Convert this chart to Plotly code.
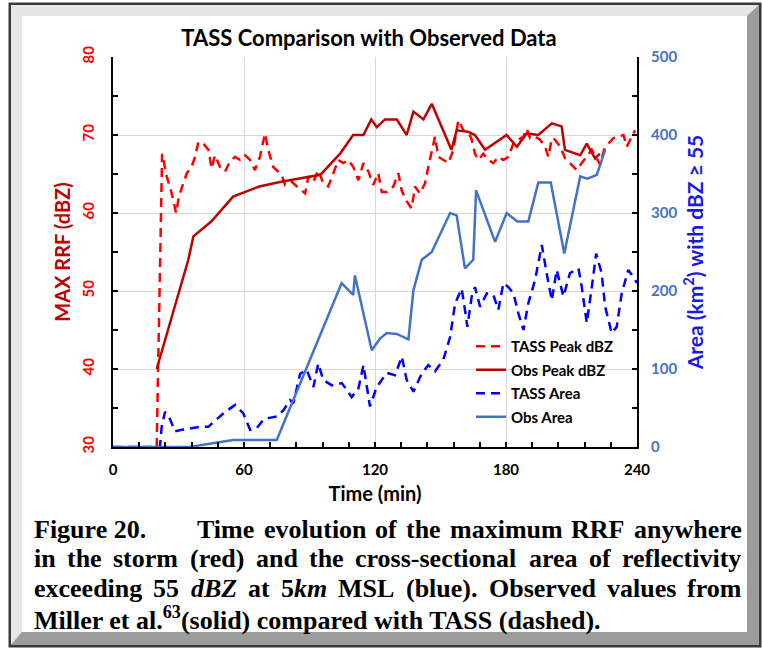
import plotly.graph_objects as go

# ---------------- data ----------------
tass_peak_t = [20, 22.5, 24.6, 26.9, 28.9, 30.2, 32.2, 33.8, 36, 37.6, 39.1, 41.4, 43.7, 45.2, 46.7, 49, 51.3,
               53.6, 55.9, 58.2, 60.5, 62.8, 65, 67.3, 69.6, 71.1, 73.4, 75.7, 77.3, 78.8, 81.9, 84.2, 86.4, 88,
               89.5, 91.8, 94, 96.3, 98.6, 100.9, 103.2, 105.5, 107.8, 110.1, 112.4, 114.7, 117, 119.2, 121.5,
               123.1, 125.4, 128.4, 130.7, 132.2, 134.5, 136.8, 138.3, 140.6, 142.9, 144.4, 146, 147.5, 149,
               151.3, 153.6, 155.9, 158.2, 160.5, 162.8, 164.3, 165.8, 167.3, 169.6, 171.9, 174.2, 176.5, 178.8,
               181.1, 183.4, 185.7, 188, 189.5, 191, 193.3, 195.6, 197.9, 199.4, 201, 202.5, 204.8, 207.1, 208.6,
               210.9, 212.4, 214.7, 217, 219.3, 221.6, 223.1, 224.9, 226.9, 229.2, 231.5, 233.8, 235.3, 237.6, 239.1]
tass_peak = [30, 67.6, 64.7, 62.5, 60, 62.1, 63.8, 65.1, 65.9, 67.2, 69.1, 68.9, 68.1, 65.7, 67.4, 65.9, 65.3,
             66.6, 67.2, 66.8, 67.4, 66.8, 65.5, 67.2, 70.2, 68.1, 65.9, 65.3, 64.9, 63.6, 64, 63.4, 62.9, 62.5,
             64.7, 64, 65.5, 63.8, 63.4, 65.1, 66.8, 66.4, 66.8, 65.9, 64.2, 66.4, 65.3, 63.6, 65.1,
             62.7, 62.7, 63.4, 65.1, 62.9, 61.5, 60.6, 63.4, 62.5, 63.8, 65.9, 68.1, 69.8, 67.2,
             66.8, 66.4, 68.1, 71.9, 70.6, 70.4, 69.4, 67.6, 66.8, 67.6, 66.8, 66.4, 67.2, 66.8,
             67.2, 68.9, 69.4, 69.8, 70.8, 69.6, 69.8, 69.4, 68.5, 67.2, 69.6, 69.4, 68.5, 67, 66.6,
             65.9, 65.5, 66.4, 67.2, 68.1, 67, 66.2, 68.1, 68.9, 69.6, 69.8, 70, 68.5, 69.8, 70.6]

obs_peak_t = [20, 34.5, 36.8, 45, 55, 67, 77, 88.5, 95, 104, 110, 114.7, 118.3, 120.8, 124.6, 130, 134.5, 137.6,
              142.2, 146, 155, 157.4, 162.8, 165.8, 170.4, 180.3, 185, 189.5, 194.8, 201, 205.5, 207, 214, 217,
              220.8, 223]
obs_peak = [40, 54, 57, 58.9, 62.1, 63.4, 64, 64.6, 64.9, 67.6, 70, 70, 72, 71, 72, 72, 70, 73,
            72, 74, 68.1, 70.6, 70.4, 70, 68.1, 70, 68.5, 70.2, 70, 71.5, 71.1, 68.1, 67.4, 68.9,
            67, 67.6]

tass_area_t = [0, 21.5, 22.3, 23.8, 25.3, 28.4, 31.5, 35.3, 39.9, 43.7, 46, 50.5, 55.9, 59.7, 62.8, 65.8, 68.9,
               71.1, 75, 78, 81.1, 82.6, 85.7, 88.7, 91.8, 94, 96.3, 100.2, 104.8, 109.3, 112.4, 114.7, 117.7,
               120.8, 125.4, 129.2, 132.3, 134.5, 137.6, 141.4, 144.4, 147.5, 151.3, 154.4, 156.7, 159.7, 161.2,
               162.3, 164.3, 165.8, 168.1, 171.2, 174.2, 176.5, 178.8, 181.1, 183.4, 185.7, 188, 190.2, 193.3,
               196.4, 198.6, 201, 203.2, 206.3, 209.3, 213.2, 214.7, 217, 219.3, 221.3, 223.8, 225.4, 228.4,
               230.7, 233, 236, 238.3, 240]
tass_area = [0, 0, 26, 45, 41, 20, 22, 24, 26, 26, 32, 43, 54, 43, 22, 24, 35,
             37, 39, 47, 60, 56, 94, 99, 77, 107, 86, 79, 82, 64, 75, 105, 52,
             77, 95, 92, 116, 86, 71, 94, 105, 97, 112, 141, 184, 203, 176,
             154, 193, 205, 180, 197, 195, 176, 210, 205, 197, 171, 150, 184, 214,
             259, 223, 188, 227, 193, 223, 229, 205, 159, 205, 248, 223, 180, 146,
             154, 197, 227, 218, 210]

obs_area_t = [0, 35, 55, 75, 104.7, 110, 110.8, 118.5, 122.3, 125.4, 130, 135.3, 137.6, 141.4, 146, 154.4,
              157.4, 161.2, 165, 166.3, 175, 180.3, 185.2, 190.2, 194.8, 200.5, 206.7, 214, 217.3, 221.6, 225.4]
obs_area = [0, 0, 9, 9, 210, 195, 220, 124, 139, 146, 145, 138, 201, 240, 250, 300,
            297, 229, 240, 329, 263, 300, 289, 289, 339, 339, 248, 347, 344, 349, 381]

series_names = ["TASS Peak dBZ", "Obs Peak dBZ", "TASS Area", "Obs Area"]
x_ticks = [0, 60, 120, 180, 240]
left_ticks = [30, 40, 50, 60, 70, 80]
right_ticks = [0, 100, 200, 300, 400, 500]

title_text = "TASS Comparison with Observed Data"
x_title = "Time (min)"
left_title = "MAX RRF (dBZ)"
right_title = "Area (km<sup>2</sup>) with dBZ ≥ 55"

caption_lines = [
    ["Time", "evolution", "of", "the", "maximum", "RRF", "anywhere"],
    ["in", "the", "storm", "(red)", "and", "the", "cross-sectional", "area", "of", "reflectivity"],
    ["exceeding", "55", "<i>dBZ</i>", "at", "5<i>km</i>", "MSL", "(blue).", "Observed", "values", "from"],
]
caption_label = "Figure 20."
caption_last = "Miller et al.<sup>63</sup>(solid) compared with TASS (dashed)."

# ---------------- layout geometry ----------------
W, H = 762, 648
PL, PR, PT, PB = 113, 637, 57, 447


def PX(x):
    return (x - PL) / (PR - PL)


def PY(y):
    return (PB - y) / (PB - PT)


FONT = "Lato"
SERIF = "Liberation Serif"

fig = go.Figure()
fig.add_trace(go.Scatter(x=tass_peak_t, y=tass_peak, name=series_names[0], mode="lines", legendgroup="a",
                         line=dict(color="#FF0000", width=2.5, dash="9px,6px")))
fig.add_trace(go.Scatter(x=obs_peak_t, y=obs_peak, name=series_names[1], mode="lines", legendgroup="b",
                         line=dict(color="#C00000", width=2.5)))
fig.add_trace(go.Scatter(x=tass_area_t, y=tass_area, name=series_names[2], mode="lines", yaxis="y2",
                         legendgroup="c", line=dict(color="#0000FF", width=2.5, dash="9px,6px")))
fig.add_trace(go.Scatter(x=obs_area_t, y=obs_area, name=series_names[3], mode="lines", yaxis="y2",
                         legendgroup="d", line=dict(color="#4472C4", width=2.5)))

axis_common = dict(showline=True, linecolor="black", linewidth=2, ticks="inside", ticklen=5,
                   tickcolor="black", tickwidth=1.5, zeroline=False)

fig.update_layout(
    width=W, height=H, autosize=False,
    margin=dict(l=PL, r=W - PR, t=PT, b=H - PB),
    paper_bgcolor="white", plot_bgcolor="white",
    showlegend=True,
    legend=dict(x=PX(471), y=PY(330), xanchor="left", yanchor="top", bgcolor="rgba(0,0,0,0)",
                font=dict(family=FONT, size=15, color="black", weight=700), itemwidth=30,
                traceorder="grouped", tracegroupgap=1),
    title=dict(text=title_text, x=PX(369), xref="paper", xanchor="center", y=1 - 38 / H, yanchor="middle",
               font=dict(family=FONT, size=22, color="black", weight=700)),
    xaxis=dict(range=[0, 240], tickvals=x_ticks, showgrid=True, gridcolor="#D9D9D9", gridwidth=1,
               tickfont=dict(family=FONT, size=15, color="black", weight=700), ticklabelstandoff=8,
               minor=dict(dtick=12, ticks="inside", ticklen=5, tickcolor="black", showgrid=False),
               title=dict(text=x_title, standoff=10, font=dict(family=FONT, size=20, color="black", weight=700)),
               **axis_common),
    yaxis=dict(range=[30, 80], tickvals=left_ticks, tickangle=-90, showgrid=True, gridcolor="#D9D9D9",
               tickfont=dict(family=FONT, size=15, color="#FF0000", weight=700), ticklabelstandoff=11,
               minor=dict(dtick=5, ticks="inside", ticklen=5, tickcolor="black", showgrid=False),
               title=dict(text=left_title, standoff=3, font=dict(family=FONT, size=20, color="#C00000", weight=700)),
               **axis_common),
    yaxis2=dict(range=[0, 500], tickvals=right_ticks, overlaying="y", side="right", showgrid=False,
                tickfont=dict(family=FONT, size=15, color="#4472C4", weight=700), ticklabelstandoff=9,
                minor=dict(dtick=50, ticks="inside", ticklen=5, tickcolor="black", showgrid=False),
                title=dict(text=right_title, standoff=12, font=dict(family=FONT, size=21, color="#1A1AE6", weight=700)),
                **axis_common),
)

# ---------------- document frame ----------------
def path(points):
    return "M " + " L ".join(f"{PX(x)},{PY(y)}" for x, y in points) + " Z"


shapes = [
    dict(type="path", xref="paper", yref="paper", layer="below",
         path=path([(10, 4), (760, 4), (760, 646), (10, 646)]), fillcolor="#BDBDBD",
         line=dict(color="#3A3A3A", width=3)),
    dict(type="path", xref="paper", yref="paper", layer="below",
         path=path([(11, 5), (759, 5), (747, 16), (22, 16), (22, 632), (11, 645)]), fillcolor="#E6E6E6",
         line=dict(width=0)),
    dict(type="path", xref="paper", yref="paper", layer="below",
         path=path([(759, 5), (759, 645), (11, 645), (22, 632), (747, 632), (747, 16)]), fillcolor="#9C9C9C",
         line=dict(width=0)),
    dict(type="path", xref="paper", yref="paper", layer="below",
         path=path([(22, 16), (747, 16), (747, 632), (22, 632)]), fillcolor="white",
         line=dict(width=0)),
]
fig.update_layout(shapes=shapes)

# ---------------- caption (justified) ----------------
FS = 26
TB = {' ': 250, 'a': 500, 'b': 556, 'c': 444, 'd': 556, 'e': 444, 'f': 333, 'g': 500, 'h': 556, 'i': 278,
      'j': 333, 'k': 556, 'l': 278, 'm': 833, 'n': 556, 'o': 500, 'p': 556, 'q': 556, 'r': 444, 's': 389,
      't': 333, 'u': 556, 'v': 500, 'w': 722, 'x': 500, 'y': 500, 'z': 444, 'A': 722, 'B': 667, 'C': 722,
      'D': 722, 'E': 667, 'F': 611, 'G': 778, 'H': 778, 'I': 389, 'J': 500, 'K': 778, 'L': 667, 'M': 944,
      'N': 722, 'O': 778, 'P': 611, 'Q': 778, 'R': 722, 'S': 556, 'T': 667, 'U': 722, 'V': 722, 'W': 1000,
      'X': 722, 'Y': 722, 'Z': 667, '.': 250, ',': 250, '-': 333, '(': 333, ')': 333}
TBI = {'d': 500, 'B': 667, 'Z': 611, 'k': 500, 'm': 778}


def word_width(w):
    total = 0
    italic = False
    i = 0
    while i < len(w):
        if w.startswith("<i>", i):
            italic = True
            i += 3
            continue
        if w.startswith("</i>", i):
            italic = False
            i += 4
            continue
        ch = w[i]
        if ch.isdigit():
            total += 500
        elif italic:
            total += TBI.get(ch, 500)
        else:
            total += TB.get(ch, 500)
        i += 1
    return total * FS / 1000


LEFT, RIGHT = 32, 740
line_y = [529, 558.5, 588, 618]
line_left = [195, LEFT, LEFT]

annotations = []
cap_font = dict(family=SERIF, size=FS, color="black", weight=700)
annotations.append(dict(text=f"<b>{caption_label}</b>", x=PX(LEFT), y=PY(line_y[0]), xref="paper", yref="paper",
                        xanchor="left", yanchor="middle", showarrow=False, font=cap_font))
for li, words in enumerate(caption_lines):
    widths = [word_width(w) for w in words]
    gap = (RIGHT - line_left[li] - sum(widths)) / (len(words) - 1)
    x = line_left[li]
    for w, wd in zip(words, widths):
        annotations.append(dict(text=f"<b>{w}</b>", x=PX(x), y=PY(line_y[li]), xref="paper", yref="paper",
                                xanchor="left", yanchor="middle", showarrow=False, font=cap_font))
        x += wd + gap
annotations.append(dict(text=f"<b>{caption_last}</b>", x=PX(LEFT), y=PY(line_y[3]), xref="paper", yref="paper",
                        xanchor="left", yanchor="middle", showarrow=False, font=cap_font))
fig.update_layout(annotations=annotations)

fig.write_html("out.html")
